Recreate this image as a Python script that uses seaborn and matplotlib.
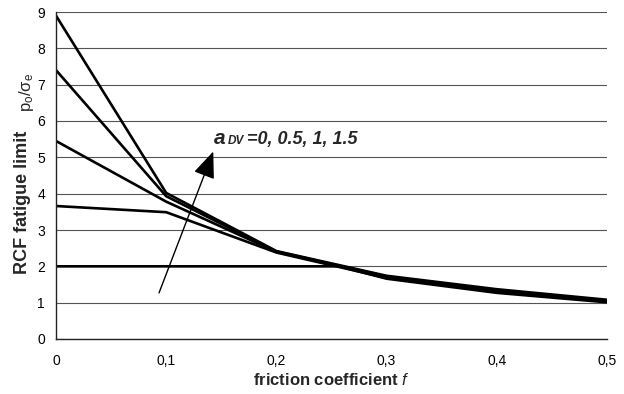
import numpy as np
import pandas as pd
import matplotlib
matplotlib.use("Agg")
import matplotlib.pyplot as plt
import seaborn as sns
from matplotlib.offsetbox import TextArea, HPacker, AnnotationBbox

## friction coefficient values (x) and RCF fatigue limit p0/sigma_e per curve
f_main = [0.0, 0.1, 0.2, 0.3, 0.4, 0.5]
curve_1 = [8.90, 4.02, 2.42, 1.74, 1.37, 1.08]
curve_2 = [7.40, 3.93, 2.41, 1.72, 1.34, 1.06]
curve_3 = [5.45, 3.78, 2.40, 1.70, 1.32, 1.05]
curve_4 = [3.66, 3.49, 2.38, 1.68, 1.30, 1.03]

f_flat = [0.0, 0.1, 0.2, 0.257, 0.3, 0.4, 0.5]
curve_flat = [2.0, 2.0, 2.0, 2.0, 1.66, 1.27, 1.01]

x_ticks = [0, 0.1, 0.2, 0.3, 0.4, 0.5]
x_labels = ["0", "0,1", "0,2", "0,3", "0,4", "0,5"]
y_ticks = list(range(10))

# build long table for seaborn
rows = []
for name, ys in [("c1", curve_1), ("c2", curve_2), ("c3", curve_3), ("c4", curve_4)]:
    for x, y in zip(f_main, ys):
        rows.append((name, x, y))
for x, y in zip(f_flat, curve_flat):
    rows.append(("flat", x, y))
df = pd.DataFrame(rows, columns=["curve", "f", "limit"])

sns.set_theme(style="white")
plt.rcParams["font.family"] = ["Liberation Sans", "DejaVu Sans"]
plt.rcParams["mathtext.fontset"] = "custom"
plt.rcParams["mathtext.rm"] = "Liberation Sans"
plt.rcParams["mathtext.it"] = "Liberation Sans:italic"
plt.rcParams["mathtext.bf"] = "Liberation Sans:bold"

fig = plt.figure(figsize=(6.24, 3.94), dpi=100)
ax = fig.add_axes([56 / 624, 55 / 394, 551 / 624, 327 / 394])

sns.lineplot(data=df, x="f", y="limit", hue="curve", units="curve", estimator=None,
             sort=False, palette=["black"] * 5, legend=False, linewidth=1.9, ax=ax)

ax.set_xlim(0, 0.5)
ax.set_ylim(0, 9)
ax.set_xticks(x_ticks)
ax.set_xticklabels(x_labels)
ax.set_yticks(y_ticks)
ax.tick_params(axis="both", labelsize=10, colors="black", length=4, width=0.8,
               direction="out", pad=4)
ax.tick_params(axis="x", pad=7)
ax.yaxis.grid(True, color="#555555", linewidth=0.8)
ax.xaxis.grid(False)
ax.set_axisbelow(True)

for side in ["top", "right"]:
    ax.spines[side].set_visible(False)
for side in ["left", "bottom"]:
    ax.spines[side].set_color("#222222")
    ax.spines[side].set_linewidth(1.0)

ax.set_xlabel("friction coefficient $\\it{f}$", fontsize=12, fontweight="bold", labelpad=3)
ax.set_ylabel("")
fig.text(23 / 624, 1 - 202 / 394, "RCF fatigue limit", rotation=90, fontsize=13,
         fontweight="bold", ha="center", va="center")
fig.text(27 / 624, 1 - 92 / 394, r"p$_\mathregular{o}$/σ$_\mathregular{e}$", rotation=90,
         fontsize=12, ha="center", va="center")

# arrow showing increasing a_DV
ax.annotate("", xy=(0.1427, 5.16), xytext=(0.0935, 1.27),
            arrowprops=dict(arrowstyle="-|>,head_length=1.1,head_width=0.45",
                            mutation_scale=15, color="black", lw=1.0,
                            shrinkA=0, shrinkB=0))

label = HPacker(children=[
    TextArea("a", textprops=dict(fontsize=15, fontweight="bold", style="italic")),
    TextArea("DV", textprops=dict(fontsize=8.5, fontweight="bold", style="italic")),
    TextArea("=0, 0.5, 1, 1.5", textprops=dict(fontsize=13, fontweight="bold", style="italic")),
], align="baseline", pad=0, sep=2)
ab = AnnotationBbox(label, (0.143, 5.53), xycoords="data", box_alignment=(0, 0.5),
                    frameon=False, pad=0)
ax.add_artist(ab)

fig.savefig("out.png", dpi=100)
